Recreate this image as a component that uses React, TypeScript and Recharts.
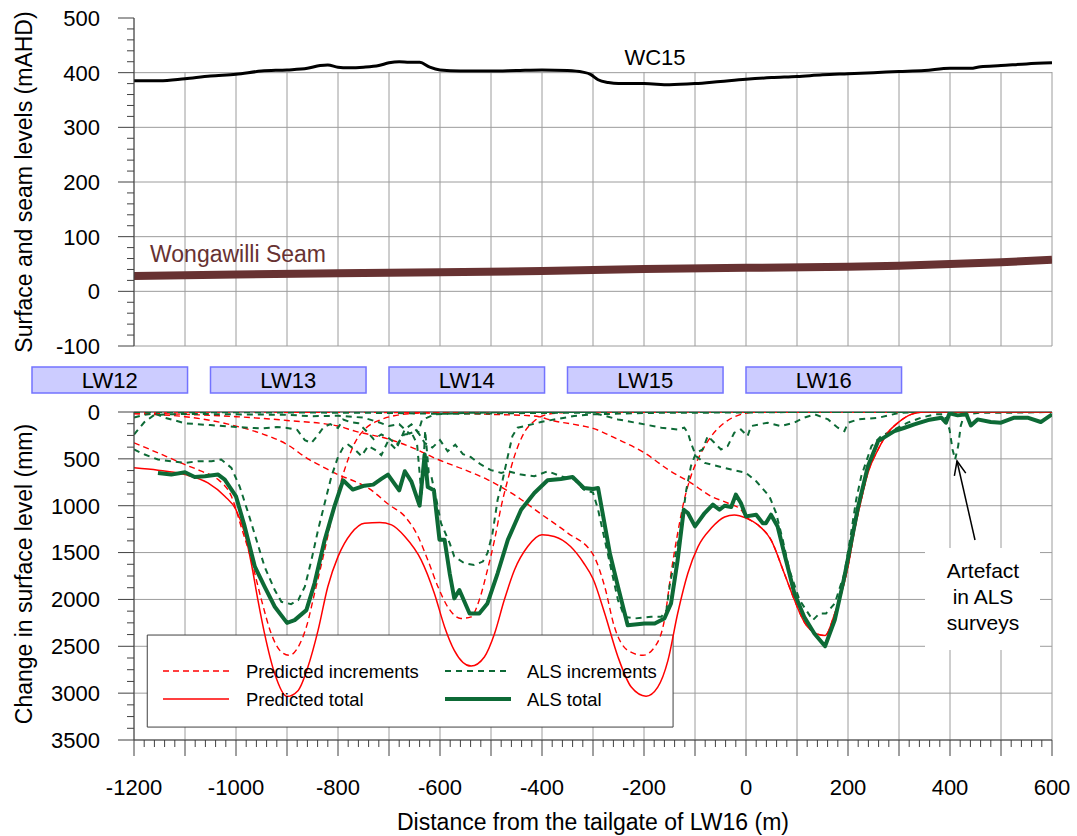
import React from "react";
import {
  LineChart,
  Line,
  XAxis,
  YAxis,
  CartesianGrid,
  ReferenceArea,
  ReferenceLine,
} from "recharts";

const W = 1077;
const H = 836;
const PLOT_L = 134;
const PLOT_R = 1052;
const TOP_T = 18;
const TOP_B = 346;
const X_MIN = -1200;
const X_MAX = 600;
const FONT = '"Liberation Sans", Arial, sans-serif';
const AXIS = "#404040";
const GRID = "#9c9c9c";
const RED = "#ff0000";
const GREEN = "#0d6a36";
const SEAM = "#673232";

// ---- tick labels ----
const xLabelTicks = [-1200, -1000, -800, -600, -400, -200, 0, 200, 400, 600];
const topLabelTicks = [-100, 0, 100, 200, 300, 400, 500];
const bottomLabelTicks = [0, 500, 1000, 1500, 2000, 2500, 3000, 3500];

// ---- longwall panels (m from tailgate of LW16) ----
const panelNames = ["LW12", "LW13", "LW14", "LW15", "LW16"];
const panelStart = [-1400, -1050, -700, -350, 0];
const panelEnd = [-1095, -745, -395, -45, 305];

// ---- top panel: levels (mAHD) ----
const surfaceLevel: [number, number][] = [
  [-1200, 385], [-1150, 385], [-1100, 389], [-1050, 394], [-1000, 397], [-950, 403],
  [-900, 405], [-860, 408], [-835, 413], [-820, 414], [-800, 410], [-780, 409],
  [-750, 410], [-720, 413], [-700, 418], [-680, 420], [-660, 419], [-640, 419],
  [-620, 410], [-600, 405], [-560, 403], [-500, 403], [-450, 404], [-400, 405],
  [-350, 404], [-320, 401], [-305, 397], [-290, 387], [-270, 382], [-250, 380],
  [-200, 380], [-150, 378], [-100, 380], [-50, 384], [0, 388], [50, 391],
  [100, 393], [150, 396], [200, 398], [250, 400], [300, 402], [350, 404],
  [400, 408], [440, 408], [460, 411], [500, 413], [550, 416], [600, 418],
];
const seamLevel: [number, number][] = [
  [-1200, 28], [-1000, 31], [-800, 33], [-600, 35], [-400, 37], [-200, 41],
  [0, 43], [200, 45], [300, 47], [400, 50], [500, 53], [600, 58],
];

// ---- bottom panel: change in surface level (mm) ----
const predTotal: [number, number][] = [
  [-1200, 596], [-1153, 621], [-1100, 668], [-1055, 757], [-1022, 900], [-1000, 1043],
  [-983, 1293], [-970, 1614], [-957, 2007], [-944, 2364], [-924, 2793], [-900, 3035],
  [-878, 2971], [-859, 2721], [-839, 2328], [-820, 1864], [-800, 1543], [-774, 1293],
  [-748, 1186], [-718, 1178], [-695, 1204], [-669, 1328], [-637, 1578], [-611, 1936],
  [-591, 2293], [-572, 2543], [-539, 2711], [-513, 2614], [-493, 2364], [-474, 2007],
  [-454, 1686], [-428, 1436], [-400, 1311], [-376, 1328], [-344, 1436], [-318, 1614],
  [-300, 1780], [-277, 2150], [-251, 2614], [-225, 2935], [-196, 3032], [-173, 2935],
  [-153, 2650], [-134, 2150], [-114, 1721], [-94, 1436], [-68, 1239], [-42, 1121],
  [-23, 1100], [0, 1132], [23, 1203], [49, 1364], [75, 1721], [95, 2007], [114, 2239],
  [140, 2370], [155, 2385], [174, 2150], [187, 1936], [200, 1650], [213, 1257],
  [226, 936], [239, 650], [259, 400], [278, 221], [298, 114], [324, 25], [350, 0], [600, 0],
];
const predIncLW13: [number, number][] = [
  [-1200, 329], [-1153, 436], [-1100, 561], [-1068, 632], [-1035, 721], [-1009, 900],
  [-990, 1221], [-970, 1578], [-950, 2007], [-931, 2364], [-911, 2561], [-895, 2596],
  [-878, 2507], [-862, 2293], [-846, 1936], [-826, 1471], [-807, 1007], [-787, 614],
  [-767, 329], [-748, 186], [-720, 90], [-690, 40], [-650, 15], [-600, 5], [-500, 0], [600, 0],
];
const predIncLW14: [number, number][] = [
  [-1200, 20], [-1100, 50], [-1050, 90], [-1000, 150], [-950, 230], [-900, 346],
  [-859, 500], [-826, 596], [-800, 668], [-767, 740], [-741, 811], [-700, 989],
  [-669, 1114], [-643, 1328], [-624, 1578], [-604, 1864], [-585, 2078], [-559, 2203],
  [-539, 2186], [-523, 2007], [-507, 1686], [-493, 1364], [-480, 1007], [-467, 721],
  [-454, 471], [-435, 221], [-415, 96], [-389, 25], [-350, 5], [-300, 0], [600, 0],
];
const predIncLW15: [number, number][] = [
  [-1200, 10], [-1100, 25], [-1000, 50], [-900, 90], [-800, 150], [-767, 204],
  [-700, 290], [-650, 390], [-604, 507], [-550, 620], [-507, 721], [-450, 900],
  [-400, 1096], [-350, 1290], [-300, 1520], [-277, 1864], [-258, 2293], [-232, 2543],
  [-202, 2596], [-179, 2507], [-160, 2221], [-147, 1721], [-134, 1293], [-121, 936],
  [-108, 686], [-88, 436], [-68, 257], [-42, 114], [-10, 25], [20, 0], [600, 0],
];
const predIncLW16: [number, number][] = [
  [-1200, 0], [-700, 5], [-600, 12], [-500, 25], [-415, 43], [-376, 96], [-337, 132],
  [-300, 175], [-251, 293], [-199, 436], [-153, 614], [-108, 757], [-68, 900],
  [-36, 971], [-10, 1043], [0, 1114], [23, 1203], [49, 1364], [75, 1721], [95, 2007],
  [114, 2239], [140, 2370], [155, 2385], [174, 2150], [187, 1936], [200, 1650],
  [213, 1257], [226, 936], [239, 650], [259, 400], [278, 221], [298, 114], [324, 25],
  [350, 0], [600, 0],
];

const alsTotal: [number, number][] = [
  [-1153, 650], [-1127, 668], [-1100, 643], [-1081, 693], [-1061, 686], [-1035, 668],
  [-1022, 721], [-1000, 900], [-983, 1221], [-963, 1650], [-944, 1864], [-924, 2078],
  [-900, 2250], [-885, 2221], [-862, 2114], [-846, 1828], [-826, 1364], [-807, 1007],
  [-790, 729], [-771, 828], [-748, 786], [-731, 775], [-715, 714], [-702, 668],
  [-680, 836], [-669, 632], [-656, 743], [-640, 1000], [-630, 453], [-624, 800],
  [-612, 836], [-601, 1364], [-591, 1364], [-581, 1721], [-572, 1989], [-562, 1900],
  [-542, 2150], [-523, 2150], [-507, 2043], [-487, 1721], [-467, 1364], [-441, 1043],
  [-415, 864], [-389, 729], [-363, 714], [-340, 693], [-318, 811], [-300, 821],
  [-290, 811], [-267, 1507], [-251, 1864], [-232, 2275], [-199, 2257], [-179, 2257],
  [-160, 2203], [-147, 2043], [-134, 1578], [-122, 1043], [-114, 1078], [-100, 1221],
  [-81, 1078], [-65, 989], [-52, 1043], [-42, 1000], [-29, 1014], [-20, 882],
  [-10, 971], [0, 1114], [20, 1096], [33, 1186], [39, 1186], [49, 1096], [62, 1221],
  [75, 1507], [95, 1936], [114, 2186], [134, 2364], [155, 2500], [174, 2221],
  [193, 1757], [220, 1007], [239, 579], [259, 311], [291, 204], [311, 168], [330, 132],
  [357, 86], [383, 61], [392, 114], [399, 14], [415, 36], [432, 25], [441, 143],
  [454, 79], [480, 107], [500, 114], [526, 61], [552, 61], [578, 107], [600, 25],
];
const alsIncLW13: [number, number][] = [
  [-1200, 400], [-1179, 454], [-1153, 507], [-1127, 525], [-1100, 543], [-1075, 525],
  [-1048, 525], [-1029, 507], [-1009, 596], [-993, 793], [-976, 1078], [-960, 1364],
  [-944, 1650], [-924, 1900], [-911, 2025], [-892, 2050], [-878, 2007], [-865, 1864],
  [-852, 1578], [-839, 1257], [-826, 971], [-813, 690], [-800, 480], [-790, 380],
  [-780, 350], [-767, 400], [-754, 470], [-741, 364], [-728, 400], [-715, 460],
  [-702, 311], [-686, 400], [-669, 186], [-656, 132], [-643, 221], [-635, 80],
  [-625, 60], [-610, 25], [-550, 10], [-450, 0], [600, 0],
];
const alsIncLW14: [number, number][] = [
  [-1200, 60], [-1180, 30], [-1160, 15], [-1140, 60], [-1100, 120], [-1050, 140],
  [-1000, 160], [-950, 175], [-920, 160], [-900, 170], [-880, 190], [-865, 300],
  [-852, 330], [-840, 250], [-828, 160], [-815, 130], [-800, 170], [-790, 80],
  [-775, 110], [-760, 120], [-745, 200], [-730, 290], [-715, 240], [-700, 280],
  [-685, 350], [-670, 240], [-655, 230], [-645, 340], [-636, 900], [-629, 200],
  [-622, 650], [-617, 686], [-607, 936], [-598, 1186], [-581, 1400], [-572, 1543],
  [-552, 1614], [-533, 1632], [-516, 1596], [-507, 1507], [-497, 1293], [-487, 936],
  [-477, 721], [-467, 471], [-458, 257], [-448, 168], [-428, 143], [-402, 107],
  [-376, 79], [-337, 43], [-300, 25], [-200, 10], [0, 5], [100, 0], [600, 0],
];
const alsIncLW15: [number, number][] = [
  [-1200, 240], [-1180, 110], [-1160, 30], [-1100, 20], [-1000, 25], [-900, 30],
  [-850, 45], [-800, 40], [-750, 60], [-720, 110], [-700, 150], [-680, 130],
  [-660, 230], [-645, 200], [-630, 330], [-615, 380], [-600, 300], [-585, 420],
  [-570, 350], [-555, 450], [-540, 480], [-520, 560], [-500, 620], [-480, 650],
  [-467, 632], [-441, 668], [-415, 686], [-389, 632], [-363, 686], [-337, 721],
  [-318, 829], [-300, 860], [-290, 1043], [-277, 1364], [-264, 1686], [-251, 2007],
  [-238, 2186], [-218, 2203], [-186, 2186], [-166, 2186], [-156, 2114], [-150, 1864],
  [-140, 1578], [-127, 1221], [-117, 829], [-108, 578], [-98, 436], [-85, 400],
  [-75, 257], [-62, 328], [-49, 400], [-36, 364], [-23, 221], [-10, 186], [3, 257],
  [10, 150], [42, 114], [68, 150], [94, 114], [114, 61], [135, 25], [161, 79],
  [180, 168], [193, 204], [200, 114], [220, 79], [260, 61], [300, 10], [350, 0], [600, 0],
];
const alsIncLW16: [number, number][] = [
  [-1200, 0], [-900, 5], [-700, 10], [-600, 20], [-500, 15], [-400, 10], [-300, 7],
  [-251, 79], [-199, 132], [-166, 168], [-134, 186], [-121, 168], [-114, 221],
  [-108, 329], [-98, 471], [-81, 543], [-55, 579], [-29, 614], [0, 650], [20, 739],
  [46, 900], [59, 1078], [72, 1364], [85, 1686], [105, 2007], [131, 2221], [144, 2150],
  [157, 2150], [174, 2043], [193, 1721], [206, 1293], [216, 936], [226, 686],
  [246, 364], [265, 257], [291, 186], [317, 114], [343, 61], [370, 25], [389, 25],
  [399, 186], [405, 400], [410, 507], [416, 364], [421, 150], [428, 25], [461, 7],
  [526, 7], [600, 0],
];

const predIncrements = [predIncLW13, predIncLW14, predIncLW15, predIncLW16];
const alsIncrements = [alsIncLW13, alsIncLW14, alsIncLW15, alsIncLW16];

// legend frame, in chart units (distance m, change mm)
const legendBox = { x1: -1174, x2: -143, y1: 2380, y2: 3362 };

const toPts = (arr: [number, number][]) => arr.map(([x, y]) => ({ x, y }));
const steps = (a: number, b: number, s: number) => {
  const out: number[] = [];
  for (let v = a; v <= b + 1e-9; v += s) out.push(Math.round(v * 1000) / 1000);
  return out;
};
const pxX = (m: number) => PLOT_L + ((m - X_MIN) / (X_MAX - X_MIN)) * (PLOT_R - PLOT_L);
const pxTopY = (v: number) => TOP_T + ((500 - v) / 600) * (TOP_B - TOP_T);

const xGrid = steps(X_MIN, X_MAX, 100);
const xMinor = steps(X_MIN, X_MAX, 20);
const topMinor = steps(-100, 500, 20);
const bottomMinor = steps(0, 3500, 125);

function LeftTick(props: any) {
  const { x, y, payload, labels } = props;
  const v = payload.value;
  const major = labels.includes(v);
  return (
    <g>
      <line x1={x - (major ? 16 : 7)} x2={x} y1={y} y2={y} stroke={AXIS} strokeWidth={1} />
      {major && (
        <text x={x - 34} y={y} dy="0.36em" textAnchor="end" fontSize={22} fill="#000" fontFamily={FONT}>
          {v}
        </text>
      )}
    </g>
  );
}

function BottomTick(props: any) {
  const { x, y, payload } = props;
  const v = payload.value;
  const major = v % 100 === 0;
  const label = xLabelTicks.includes(v);
  return (
    <g>
      <line x1={x} x2={x} y1={y} y2={y + (major ? 16 : 7)} stroke={AXIS} strokeWidth={1} />
      {label && (
        <text x={x} y={y + 47} dy="0.36em" textAnchor="middle" fontSize={22} fill="#000" fontFamily={FONT}>
          {v}
        </text>
      )}
    </g>
  );
}

function Arrow({ x1, y1, x2, y2 }: { x1: number; y1: number; x2: number; y2: number }) {
  const a = Math.atan2(y2 - y1, x2 - x1);
  const len = 15;
  const spread = 0.4;
  const p1 = [x2 - len * Math.cos(a - spread), y2 - len * Math.sin(a - spread)];
  const p2 = [x2 - len * Math.cos(a + spread), y2 - len * Math.sin(a + spread)];
  return (
    <g stroke="#000" strokeWidth={1.5} fill="none">
      <line x1={x1} y1={y1} x2={x2} y2={y2} />
      <polyline points={`${p1[0]},${p1[1]} ${x2},${y2} ${p2[0]},${p2[1]}`} />
    </g>
  );
}

export default function App() {
  const gridTop = pxTopY(400);
  return (
    <div style={{ position: "absolute", left: 0, top: 0, width: W, height: H, background: "#fff", fontFamily: FONT }}>
      {/* grid of the top panel, drawn only over -100..400 mAHD */}
      <div style={{ position: "absolute", left: 0, top: 0, width: W, height: 360 }}>
        <LineChart width={W} height={360} margin={{ top: TOP_T, right: W - PLOT_R, bottom: 360 - TOP_B, left: PLOT_L }}>
          <CartesianGrid stroke={GRID} horizontalValues={[-100, 0, 100, 200, 300, 400]} verticalValues={xGrid} />
          <XAxis type="number" dataKey="x" domain={[X_MIN, X_MAX]} hide allowDataOverflow />
          <YAxis type="number" domain={[-100, 500]} hide allowDataOverflow />
        </LineChart>
      </div>
      <div
        style={{
          position: "absolute",
          left: PLOT_L + 1,
          top: TOP_T - 2,
          width: PLOT_R - PLOT_L + 4,
          height: gridTop - TOP_T + 1.5,
          background: "#fff",
        }}
      />

      <div style={{ position: "absolute", left: 0, top: 0 }}>
        <LineChart width={W} height={360} margin={{ top: TOP_T, right: W - PLOT_R, bottom: 360 - TOP_B, left: PLOT_L - 60 }}>
          <XAxis type="number" dataKey="x" domain={[X_MIN, X_MAX]} hide allowDataOverflow />
          <YAxis
            type="number"
            domain={[-100, 500]}
            ticks={topMinor}
            interval={0}
            width={60}
            tickSize={0}
            tickMargin={0}
            tickLine={false}
            axisLine={{ stroke: AXIS }}
            tick={<LeftTick labels={topLabelTicks} />}
            allowDataOverflow
          />
          <Line data={toPts(seamLevel)} dataKey="y" type="linear" stroke={SEAM} strokeWidth={8} dot={false} isAnimationActive={false} />
          <Line data={toPts(surfaceLevel)} dataKey="y" type="monotone" stroke="#000" strokeWidth={3} dot={false} isAnimationActive={false} />
        </LineChart>
      </div>

      <div style={{ position: "absolute", left: 0, top: 400 }}>
        <LineChart width={W} height={436} margin={{ top: 12, right: W - PLOT_R, bottom: 36, left: PLOT_L - 60 }}>
          <CartesianGrid stroke={GRID} horizontalValues={bottomLabelTicks} verticalValues={xGrid} />
          <XAxis
            type="number"
            dataKey="x"
            domain={[X_MIN, X_MAX]}
            ticks={xMinor}
            interval={0}
            height={60}
            tickSize={0}
            tickMargin={0}
            tickLine={false}
            axisLine={{ stroke: AXIS }}
            tick={<BottomTick />}
            allowDataOverflow
          />
          <YAxis
            type="number"
            reversed
            domain={[0, 3500]}
            ticks={bottomMinor}
            interval={0}
            width={60}
            tickSize={0}
            tickMargin={0}
            tickLine={false}
            axisLine={{ stroke: AXIS }}
            tick={<LeftTick labels={bottomLabelTicks} />}
            allowDataOverflow
          />
          <ReferenceArea
            x1={legendBox.x1}
            x2={legendBox.x2}
            y1={legendBox.y1}
            y2={legendBox.y2}
            fill="#fff"
            fillOpacity={1}
            stroke={AXIS}
            strokeWidth={1}
          />
          <ReferenceLine y={0} stroke={AXIS} strokeWidth={1} />
          {predIncrements.map((s, i) => (
            <Line key={"p" + i} data={toPts(s)} dataKey="y" type="monotone" stroke={RED} strokeWidth={1.4} strokeDasharray="6 4" dot={false} isAnimationActive={false} />
          ))}
          {alsIncrements.map((s, i) => (
            <Line key={"a" + i} data={toPts(s)} dataKey="y" type="linear" stroke={GREEN} strokeWidth={2} strokeDasharray="6 5" dot={false} isAnimationActive={false} />
          ))}
          <Line data={toPts(predTotal)} dataKey="y" type="monotone" stroke={RED} strokeWidth={1.5} dot={false} isAnimationActive={false} />
          <Line data={toPts(alsTotal)} dataKey="y" type="linear" stroke={GREEN} strokeWidth={4} strokeLinejoin="round" dot={false} isAnimationActive={false} />
        </LineChart>
      </div>

      <svg width={W} height={H} style={{ position: "absolute", left: 0, top: 0, pointerEvents: "none" }} fontFamily={FONT}>
        <text transform="translate(24,182) rotate(-90)" textAnchor="middle" dy="0.36em" fontSize={23} fill="#000">
          Surface and seam levels (mAHD)
        </text>
        <text transform="translate(24,574) rotate(-90)" textAnchor="middle" dy="0.36em" fontSize={23} fill="#000">
          Change in surface level (mm)
        </text>
        <text x={(PLOT_L + PLOT_R) / 2} y={822} textAnchor="middle" dy="0.36em" fontSize={23} fill="#000">
          Distance from the tailgate of LW16 (m)
        </text>
        <text x={655} y={57} textAnchor="middle" dy="0.36em" fontSize={22} fill="#000">WC15</text>
        <text x={150} y={254} dy="0.36em" fontSize={23} fill={SEAM}>Wongawilli Seam</text>

        {panelNames.map((n, i) => {
          const a = pxX(panelStart[i]);
          const b = pxX(panelEnd[i]);
          return (
            <g key={n}>
              <rect x={a} y={367} width={b - a} height={26} fill="#ccccff" stroke="#7373ff" strokeWidth={1.5} />
              <text x={(a + b) / 2} y={380} dy="0.36em" textAnchor="middle" fontSize={22} fill="#000">{n}</text>
            </g>
          );
        })}

        <rect x={925} y={548} width={115} height={102} fill="#fff" />
        <text x={983} y={570} dy="0.36em" textAnchor="middle" fontSize={21} fill="#000">Artefact</text>
        <text x={983} y={596} dy="0.36em" textAnchor="middle" fontSize={21} fill="#000">in ALS</text>
        <text x={983} y={622} dy="0.36em" textAnchor="middle" fontSize={21} fill="#000">surveys</text>
        <Arrow x1={975} y1={540} x2={957} y2={461} />

        <g fontSize={18.4} fill="#000">
          <line x1={163} x2={229} y1={671} y2={671} stroke={RED} strokeWidth={1.4} strokeDasharray="6 4" />
          <text x={246} y={671} dy="0.36em">Predicted increments</text>
          <line x1={163} x2={229} y1={699} y2={699} stroke={RED} strokeWidth={1.5} />
          <text x={246} y={699} dy="0.36em">Predicted total</text>
          <line x1={445} x2={511} y1={671} y2={671} stroke={GREEN} strokeWidth={2} strokeDasharray="6 5" />
          <text x={527} y={671} dy="0.36em">ALS increments</text>
          <line x1={445} x2={511} y1={699} y2={699} stroke={GREEN} strokeWidth={4} />
          <text x={527} y={699} dy="0.36em">ALS total</text>
        </g>
      </svg>
    </div>
  );
}
